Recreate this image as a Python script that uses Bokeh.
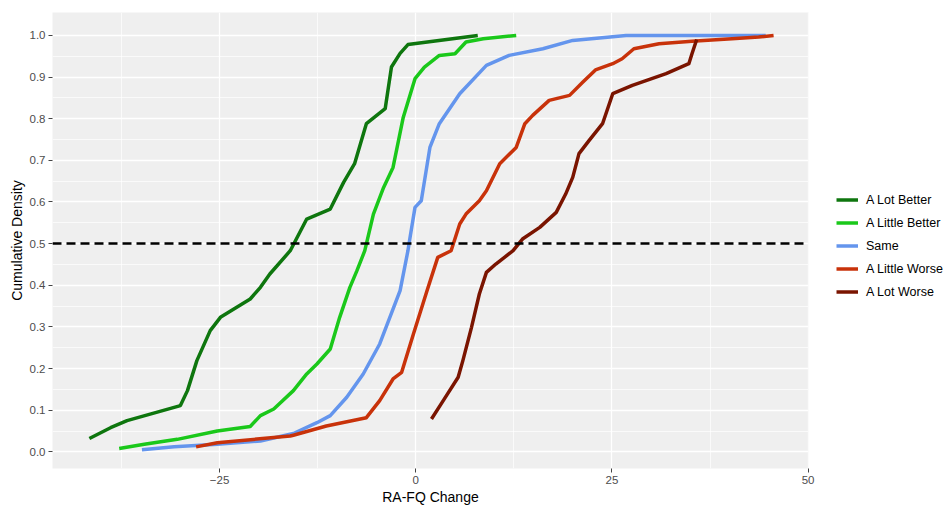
from bokeh.plotting import figure
from bokeh.models import Legend, LegendItem, FixedTicker, Span, Range1d, PrintfTickFormatter
from bokeh.embed import file_html
from bokeh.resources import INLINE

# ---- data ----
series_names = ["A Lot Better", "A Little Better", "Same", "A Little Worse", "A Lot Worse"]
series_colors = ["#0e760e", "#1ac81a", "#6495ed", "#c8320a", "#7a1400"]

lot_better_x = [-41.6, -38.9, -36.8, -30.0, -29.1, -27.9, -26.2, -24.9, -21.1, -19.8, -18.6,
                -16.0, -13.9, -10.9, -9.2, -7.8, -6.3, -3.9, -3.1, -2.0, -1.0, 7.9]
lot_better_y = [0.032, 0.058, 0.075, 0.111, 0.147, 0.219, 0.291, 0.323, 0.367, 0.395, 0.427,
                0.483, 0.559, 0.583, 0.647, 0.692, 0.788, 0.824, 0.924, 0.957, 0.978, 1.0]

little_better_x = [-37.8, -34.6, -30.4, -25.3, -21.1, -19.8, -18.1, -15.6, -13.9, -12.6, -10.9,
                   -9.7, -8.4, -7.5, -6.5, -5.4, -4.1, -2.9, -1.6, -0.1, 1.1, 3.0, 5.0, 6.4, 8.6, 12.8]
little_better_y = [0.008, 0.018, 0.030, 0.050, 0.061, 0.087, 0.103, 0.147, 0.187, 0.211, 0.247,
                   0.323, 0.395, 0.435, 0.483, 0.571, 0.635, 0.683, 0.803, 0.896, 0.924, 0.952,
                   0.956, 0.984, 0.992, 1.0]

same_x = [-34.9, -30.8, -25.3, -19.8, -15.6, -12.6, -10.9, -8.8, -6.7, -4.6, -2.0, -1.0, -0.8,
          -0.1, 0.7, 1.8, 3.0, 5.6, 9.0, 11.9, 16.2, 20.0, 23.4, 26.8, 44.6]
same_y = [0.005, 0.012, 0.018, 0.026, 0.044, 0.070, 0.087, 0.131, 0.187, 0.259, 0.387, 0.483,
          0.507, 0.587, 0.603, 0.731, 0.788, 0.860, 0.928, 0.952, 0.968, 0.988, 0.994, 1.0, 1.0]

little_worse_x = [-28.0, -25.3, -16.0, -15.6, -11.4, -6.3, -4.6, -2.9, -1.8, -0.3, 1.4, 2.8, 4.5,
                  5.6, 6.4, 8.1, 9.0, 10.7, 12.8, 13.9, 14.9, 17.0, 19.6, 21.3, 22.9, 25.1, 26.3,
                  27.8, 31.0, 35.2, 40.3, 43.7, 45.6]
little_worse_y = [0.012, 0.022, 0.038, 0.040, 0.062, 0.082, 0.123, 0.175, 0.191, 0.283, 0.385,
                  0.467, 0.483, 0.547, 0.571, 0.603, 0.627, 0.692, 0.731, 0.788, 0.808, 0.844,
                  0.856, 0.888, 0.917, 0.932, 0.944, 0.968, 0.980, 0.986, 0.992, 0.996, 1.0]

lot_worse_x = [2.0, 3.5, 5.4, 6.0, 7.1, 8.1, 9.0, 10.2, 12.4, 13.6, 15.8, 17.9, 19.1, 20.0, 20.8,
               22.1, 23.8, 25.1, 27.6, 31.9, 34.8, 35.2, 35.8]
lot_worse_y = [0.079, 0.123, 0.179, 0.219, 0.299, 0.379, 0.431, 0.451, 0.483, 0.511, 0.539,
               0.575, 0.619, 0.659, 0.716, 0.748, 0.788, 0.860, 0.880, 0.908, 0.932, 0.956, 0.99]

series_x = [lot_better_x, little_better_x, same_x, little_worse_x, lot_worse_x]
series_y = [lot_better_y, little_better_y, same_y, little_worse_y, lot_worse_y]

x_ticks = [-25, 0, 25, 50]
x_minor_ticks = [-37.5, -12.5, 12.5, 37.5]
y_ticks = [0.0, 0.1, 0.2, 0.3, 0.4, 0.5, 0.6, 0.7, 0.8, 0.9, 1.0]
y_minor_ticks = [0.05, 0.15, 0.25, 0.35, 0.45, 0.55, 0.65, 0.75, 0.85, 0.95]
median_level = 0.5

FONT = "Liberation Sans"

p = figure(frame_width=756, frame_height=456, output_backend="svg", toolbar_location=None,
           x_range=Range1d(-46.3, 50.05), y_range=Range1d(-0.04, 1.055),
           min_border_left=52, min_border_right=134, min_border_top=12, min_border_bottom=39)

p.background_fill_color = "#efefef"
p.border_fill_color = "white"
p.outline_line_color = None

for ax in (p.xaxis, p.yaxis):
    ax.axis_line_color = None
    ax.major_tick_line_color = "#444444"
    ax.major_tick_out = 4
    ax.major_tick_in = 0
    ax.minor_tick_line_color = None
    ax.major_label_text_font = FONT
    ax.major_label_text_font_size = "11.5px"
    ax.major_label_text_color = "#4d4d4d"
    ax.axis_label_text_font = FONT
    ax.axis_label_text_font_size = "14px"
    ax.axis_label_text_font_style = "normal"
    ax.axis_label_text_color = "black"
    ax.major_label_standoff = 3
    ax.axis_label_standoff = 2

p.xaxis.ticker = FixedTicker(ticks=x_ticks, minor_ticks=x_minor_ticks)
p.yaxis.ticker = FixedTicker(ticks=y_ticks, minor_ticks=y_minor_ticks)
p.yaxis.formatter = PrintfTickFormatter(format="%.1f")
p.xaxis.axis_label = "RA-FQ Change"
p.yaxis.axis_label = "Cumulative Density"

for g in (p.xgrid, p.ygrid):
    g.grid_line_color = "white"
    g.grid_line_width = 1.3
    g.minor_grid_line_color = "white"
    g.minor_grid_line_width = 0.7

items = []
for name, color, xs, ys in zip(series_names, series_colors, series_x, series_y):
    r = p.line(xs, ys, line_color=color, line_width=3.5, line_join="round")
    items.append(LegendItem(label=name, renderers=[r]))

p.add_layout(Span(location=median_level, dimension="width", line_color="black",
                  line_width=2.5, line_dash="9 5"))

legend = Legend(items=items, location=(28, 168), orientation="vertical",
                glyph_width=22, glyph_height=17, spacing=6, label_standoff=8,
                label_text_font=FONT, label_text_font_size="12.5px",
                label_text_color="black", border_line_color=None,
                background_fill_alpha=0, padding=4, margin=0)
p.add_layout(legend, "right")

open("out.html", "w").write(file_html(p, INLINE))
